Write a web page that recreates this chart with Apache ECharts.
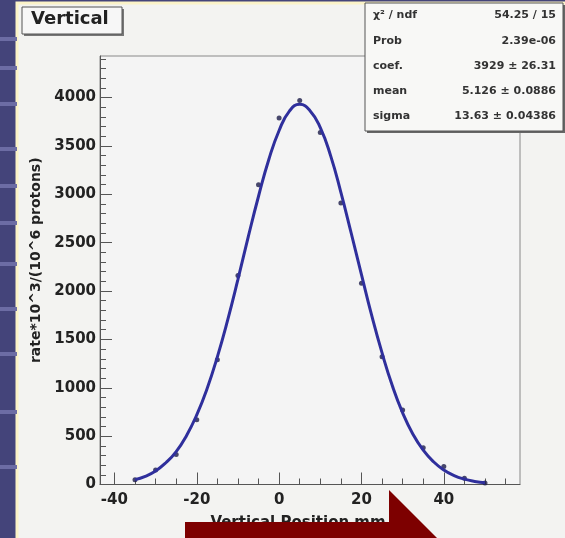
<!DOCTYPE html>
<html>
<head>
<meta charset="utf-8">
<script src="https://cdn.jsdelivr.net/npm/echarts@6.0.0/dist/echarts.min.js"></script>
<style>
  html, body { margin: 0; padding: 0; background: #44447a; }
  #chart { width: 565px; height: 538px; }
</style>
</head>
<body>
<div id="chart"></div>
<script>
// measured points (x in mm, rate)
const pointX = [-35, -30, -25, -20, -15, -10, -5, 0, 5, 10, 15, 20, 25, 30, 35, 40, 45, 50]
const pointY = [50, 150, 310, 670, 1290, 2160, 3100, 3790, 3970, 3640, 2910, 2080, 1320, 770, 380, 185, 65, 15]

// gaussian fit curve
const fitX = [-35, -32.5, -30, -27.5, -25, -22.5, -20, -17.5, -15, -12.5, -10, -7.5, -5, -2.5, 0, 2.5, 5,
  7.5, 10, 12.5, 15, 17.5, 20, 22.5, 25, 27.5, 30, 32.5, 35, 37.5, 40, 42.5, 45, 47.5, 50]
const fitY = [50, 85, 140, 225, 340, 505, 720, 990, 1320, 1700, 2120, 2560, 2980, 3360, 3660, 3860, 3930,
  3865, 3690, 3400, 3020, 2600, 2170, 1745, 1360, 1020, 740, 520, 355, 235, 150, 92, 55, 32, 18]

const xMajorTicks = [-40, -20, 0, 20, 40]
const xMinorTicks = [-40, -35, -30, -25, -20, -15, -10, -5, 0, 5, 10, 15, 20, 25, 30, 35, 40, 45, 50, 55]
const yMajorTicks = [0, 500, 1000, 1500, 2000, 2500, 3000, 3500, 4000]
const yMinorTicks = [0, 100, 200, 300, 400, 500, 600, 700, 800, 900, 1000, 1100, 1200, 1300, 1400, 1500,
  1600, 1700, 1800, 1900, 2000, 2100, 2200, 2300, 2400, 2500, 2600, 2700, 2800, 2900, 3000, 3100, 3200,
  3300, 3400, 3500, 3600, 3700, 3800, 3900, 4000, 4100, 4200, 4300, 4400]

const statNames = ['χ² / ndf', 'Prob', 'coef.', 'mean', 'sigma']
const statValues = ['54.25 / 15', '2.39e-06', '3929 ± 26.31', '5.126 ± 0.0886', '13.63 ± 0.04386']

const stripeY = [37, 66, 102, 147, 184, 221, 262, 307, 352, 410, 465]

const FONT = 'DejaVu Sans'
const labelStyle = { fontFamily: FONT, fontWeight: 'bold', fontSize: 15, color: '#222' }
const plain = v => String(v)

const chart = echarts.init(document.getElementById('chart'))

const graphics = [
  // pad
  {
    type: 'rect', z: -20, silent: true,
    shape: { x: 17, y: 3, width: 560, height: 545 },
    style: { fill: '#f3f3f1', stroke: '#fbf3c8', lineWidth: 3 },
  },
  // title box
  {
    type: 'rect', z: 50,
    shape: { x: 24, y: 9, width: 100, height: 27 },
    style: { fill: '#777' },
  },
  {
    type: 'rect', z: 51,
    shape: { x: 22, y: 7, width: 100, height: 27 },
    style: { fill: '#f7f7f7', stroke: '#555', lineWidth: 1 },
  },
  {
    type: 'text', z: 52, left: 31, top: 10,
    style: { text: 'Vertical', fontFamily: FONT, fontWeight: 'bold', fontSize: 18, fill: '#222' },
  },
  // stats box
  {
    type: 'rect', z: 50,
    shape: { x: 367, y: 5, width: 200, height: 128 },
    style: { fill: '#666' },
  },
  {
    type: 'rect', z: 51,
    shape: { x: 365, y: 3, width: 198, height: 128 },
    style: { fill: '#f8f8f6', stroke: '#555', lineWidth: 1 },
  },
  // red arrow
  {
    type: 'polygon', z: 100,
    shape: { points: [[185, 522], [389, 522], [389, 490], [437, 538], [185, 538]] },
    style: { fill: '#7d0000' },
  },
]

stripeY.forEach(y => {
  graphics.push({
    type: 'rect', z: -10, silent: true,
    shape: { x: 0, y: y, width: 17, height: 4 },
    style: { fill: '#6c6ca4' },
  })
})

statNames.forEach((name, i) => {
  const y = 17 + i * 25.2
  graphics.push({
    type: 'text', z: 52, left: 373, top: y - 7,
    style: { text: name, fontFamily: FONT, fontWeight: 'bold', fontSize: 11, fill: '#333' },
  })
  graphics.push({
    type: 'text', z: 52, right: 9, top: y - 7,
    style: { text: statValues[i], fontFamily: FONT, fontWeight: 'bold', fontSize: 11, fill: '#333', align: 'right' },
  })
})

chart.setOption({
  backgroundColor: '#44447a',
  animation: false,
  graphic: graphics,
  grid: {
    left: 100, top: 56, right: 45, bottom: 53.5,
    show: true, backgroundColor: '#f4f4f4', borderColor: '#888', borderWidth: 1,
  },
  xAxis: [
    {
      type: 'value', min: -43.5, max: 58.5, position: 'bottom',
      name: 'Vertical Position mm', nameLocation: 'middle', nameGap: 31,
      nameTextStyle: { fontFamily: FONT, fontWeight: 'bold', fontSize: 15, color: '#222', padding: [0, 24, 0, 0] },
      axisLine: { show: true, onZero: false, lineStyle: { color: '#555', width: 1 } },
      axisTick: { show: true, inside: true, length: 12, customValues: xMajorTicks, lineStyle: { color: '#555' } },
      axisLabel: { ...labelStyle, margin: 8, customValues: xMajorTicks, formatter: plain },
      splitLine: { show: false },
    },
    {
      type: 'value', min: -43.5, max: 58.5, position: 'bottom',
      axisLine: { show: false, onZero: false },
      axisTick: { show: true, inside: true, length: 6, customValues: xMinorTicks, lineStyle: { color: '#555' } },
      axisLabel: { show: false },
      splitLine: { show: false },
    },
  ],
  yAxis: [
    {
      type: 'value', min: 0, max: 4430, position: 'left',
      name: 'rate*10^3/(10^6 protons)', nameLocation: 'middle', nameGap: 54, nameRotate: 90,
      nameTextStyle: { fontFamily: FONT, fontWeight: 'bold', fontSize: 14, color: '#222', padding: [0, 0, 0, 20] },
      axisLine: { show: true, onZero: false, lineStyle: { color: '#555', width: 1 } },
      axisTick: { show: true, inside: true, length: 12, customValues: yMajorTicks, lineStyle: { color: '#555' } },
      axisLabel: { ...labelStyle, margin: 4, customValues: yMajorTicks, formatter: plain },
      splitLine: { show: false },
    },
    {
      type: 'value', min: 0, max: 4430, position: 'left',
      axisLine: { show: false, onZero: false },
      axisTick: { show: true, inside: true, length: 6, customValues: yMinorTicks, lineStyle: { color: '#555' } },
      axisLabel: { show: false },
      splitLine: { show: false },
    },
  ],
  series: [
    {
      type: 'scatter',
      xAxisIndex: 0, yAxisIndex: 0,
      symbol: 'circle', symbolSize: 5,
      itemStyle: { color: '#1c1c48' },
      data: pointX.map((x, i) => [x, pointY[i]]),
      z: 3,
    },
    {
      type: 'line',
      xAxisIndex: 0, yAxisIndex: 0,
      smooth: true, showSymbol: false,
      lineStyle: { color: '#2f2f9c', width: 3 },
      data: fitX.map((x, i) => [x, fitY[i]]),
      z: 4,
    },
  ],
})
</script>
</body>
</html>
